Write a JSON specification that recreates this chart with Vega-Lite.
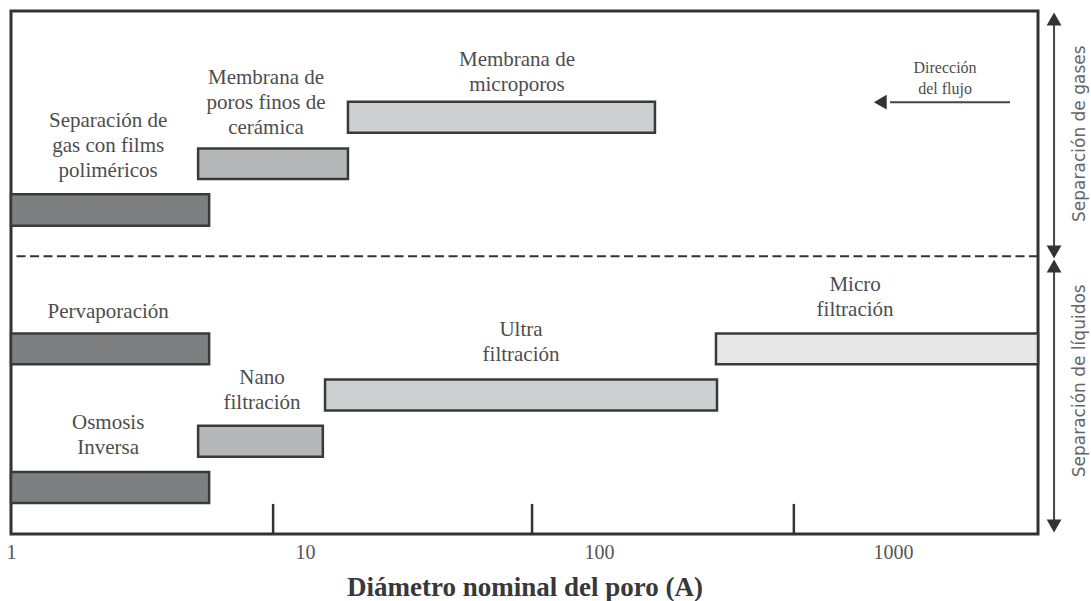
{
  "$schema": "https://vega.github.io/schema/vega-lite/v6.json",
  "width": 1027,
  "height": 523,
  "autosize": {"type": "none"},
  "padding": {"left": 11, "top": 11, "right": 53, "bottom": 67},
  "background": "white",
  "config": {
    "view": {"stroke": "#333333", "strokeWidth": 3},
    "axis": {"grid": false}
  },
  "datasets": {
    "barras": [
      {"proceso": "Separación de gas con films poliméricos", "desde": 1, "hasta": 4.72, "inf": 6.66, "sup": 7.34, "tono": "oscuro"},
      {"proceso": "Membrana de poros finos de cerámica", "desde": 4.33, "hasta": 14.0, "inf": 7.67, "sup": 8.33, "tono": "medio"},
      {"proceso": "Membrana de microporos", "desde": 14.0, "hasta": 155, "inf": 8.67, "sup": 9.34, "tono": "claro"},
      {"proceso": "Pervaporación", "desde": 1, "hasta": 4.72, "inf": 3.67, "sup": 4.33, "tono": "oscuro"},
      {"proceso": "Micro filtración", "desde": 250, "hasta": 3113, "inf": 3.67, "sup": 4.33, "tono": "muy claro"},
      {"proceso": "Ultra filtración", "desde": 11.7, "hasta": 252, "inf": 2.67, "sup": 3.34, "tono": "claro"},
      {"proceso": "Nano filtración", "desde": 4.33, "hasta": 11.5, "inf": 1.67, "sup": 2.34, "tono": "medio"},
      {"proceso": "Osmosis Inversa", "desde": 1, "hasta": 4.72, "inf": 0.67, "sup": 1.34, "tono": "oscuro"}
    ],
    "etiquetas": [
      {"texto": "Separación de|gas con films|poliméricos", "x": 2.14, "y": 8.92},
      {"texto": "Membrana de|poros finos de|cerámica", "x": 7.37, "y": 9.85},
      {"texto": "Membrana de|microporos", "x": 52.6, "y": 10.24},
      {"texto": "Pervaporación", "x": 2.14, "y": 4.8},
      {"texto": "Nano|filtración", "x": 7.14, "y": 3.37},
      {"texto": "Osmosis|Inversa", "x": 2.14, "y": 2.4},
      {"texto": "Ultra|filtración", "x": 54.3, "y": 4.41},
      {"texto": "Micro|filtración", "x": 743, "y": 5.38}
    ],
    "flujo": [
      {"texto": "Dirección|del flujo", "x": 1503, "y": 10.07}
    ],
    "separacion": [{"y": 6.0}],
    "marcas": [{"x": 7.79}, {"x": 59.2}, {"x": 460}],
    "flechas": [
      {"x1": 977, "x2": 2500, "y1": 9.33, "y2": 9.33},
      {"x1": 3530, "x2": 3530, "y1": 11.2, "y2": 6.0},
      {"x1": 3530, "x2": 3530, "y1": 5.9, "y2": 0.1}
    ],
    "puntas": [
      {"x": 905, "y": 9.33, "dir": "izquierda"},
      {"x": 3530, "y": 11.128, "dir": "arriba"},
      {"x": 3530, "y": 6.093, "dir": "abajo"},
      {"x": 3530, "y": 5.791, "dir": "arriba"},
      {"x": 3530, "y": 0.173, "dir": "abajo"}
    ],
    "lados": [
      {"texto": "Separación de gases", "x": 4327, "y": 8.65},
      {"texto": "Separación de líquidos", "x": 4327, "y": 3.31}
    ]
  },
  "layer": [
    {
      "data": {"name": "barras"},
      "mark": {"type": "rect", "stroke": "#3a3a3a", "strokeWidth": 2.5},
      "encoding": {
        "x": {
          "field": "desde", "type": "quantitative",
          "scale": {"type": "log", "domain": [1, 3113], "nice": false},
          "axis": {
            "values": [1, 10, 100, 1000], "format": "d",
            "ticks": false, "domain": false, "grid": false,
            "labelFont": "Liberation Serif", "labelFontSize": 20, "labelColor": "#555555",
            "labelPadding": 8, "labelFlush": false,
            "title": "Diámetro nominal del poro (A)",
            "titleFont": "Liberation Serif", "titleFontSize": 27, "titleFontWeight": "bold",
            "titleColor": "#383838", "titlePadding": 12
          }
        },
        "x2": {"field": "hasta"},
        "y": {"field": "inf", "type": "quantitative", "scale": {"domain": [0, 11.3], "nice": false, "zero": false}, "axis": null},
        "y2": {"field": "sup"},
        "color": {
          "field": "tono", "type": "nominal",
          "scale": {"domain": ["oscuro", "medio", "claro", "muy claro"], "range": ["#7e7f81", "#b6b7b9", "#cecfd0", "#e7e7e8"]},
          "legend": null
        }
      }
    },
    {
      "data": {"name": "etiquetas"},
      "mark": {"type": "text", "font": "Liberation Serif", "fontSize": 21, "lineHeight": 25, "lineBreak": "|", "align": "center", "baseline": "middle", "color": "#4d4d4d"},
      "encoding": {
        "x": {"field": "x", "type": "quantitative", "scale": {"type": "log", "domain": [1, 3113], "nice": false}},
        "y": {"field": "y", "type": "quantitative", "scale": {"domain": [0, 11.3], "nice": false, "zero": false}},
        "text": {"field": "texto", "type": "nominal"}
      }
    },
    {
      "data": {"name": "flujo"},
      "mark": {"type": "text", "font": "Liberation Serif", "fontSize": 16, "lineHeight": 21, "lineBreak": "|", "align": "center", "baseline": "middle", "color": "#4d4d4d"},
      "encoding": {
        "x": {"field": "x", "type": "quantitative"},
        "y": {"field": "y", "type": "quantitative"},
        "text": {"field": "texto", "type": "nominal"}
      }
    },
    {
      "data": {"name": "separacion"},
      "mark": {"type": "rule", "strokeDash": [9, 4.5], "strokeWidth": 2, "color": "#333333"},
      "encoding": {
        "y": {"field": "y", "type": "quantitative"}
      }
    },
    {
      "data": {"name": "marcas"},
      "mark": {"type": "rule", "strokeWidth": 2.5, "color": "#333333"},
      "encoding": {
        "x": {"field": "x", "type": "quantitative"},
        "y": {"datum": 0, "type": "quantitative"},
        "y2": {"datum": 0.65}
      }
    },
    {
      "data": {"name": "flechas"},
      "mark": {"type": "rule", "strokeWidth": 2, "color": "#444444"},
      "encoding": {
        "x": {"field": "x1", "type": "quantitative"},
        "x2": {"field": "x2"},
        "y": {"field": "y1", "type": "quantitative"},
        "y2": {"field": "y2"}
      }
    },
    {
      "data": {"name": "puntas"},
      "mark": {"type": "point", "filled": true, "opacity": 1, "size": 220, "color": "#333333"},
      "encoding": {
        "x": {"field": "x", "type": "quantitative"},
        "y": {"field": "y", "type": "quantitative"},
        "shape": {
          "field": "dir", "type": "nominal",
          "scale": {"domain": ["izquierda", "arriba", "abajo"], "range": ["triangle-left", "triangle-up", "triangle-down"]},
          "legend": null
        }
      }
    },
    {
      "data": {"name": "lados"},
      "mark": {"type": "text", "font": "DejaVu Sans", "fontSize": 17, "angle": 270, "align": "center", "baseline": "middle", "color": "#666666"},
      "encoding": {
        "x": {"field": "x", "type": "quantitative"},
        "y": {"field": "y", "type": "quantitative"},
        "text": {"field": "texto", "type": "nominal"}
      }
    }
  ]
}
